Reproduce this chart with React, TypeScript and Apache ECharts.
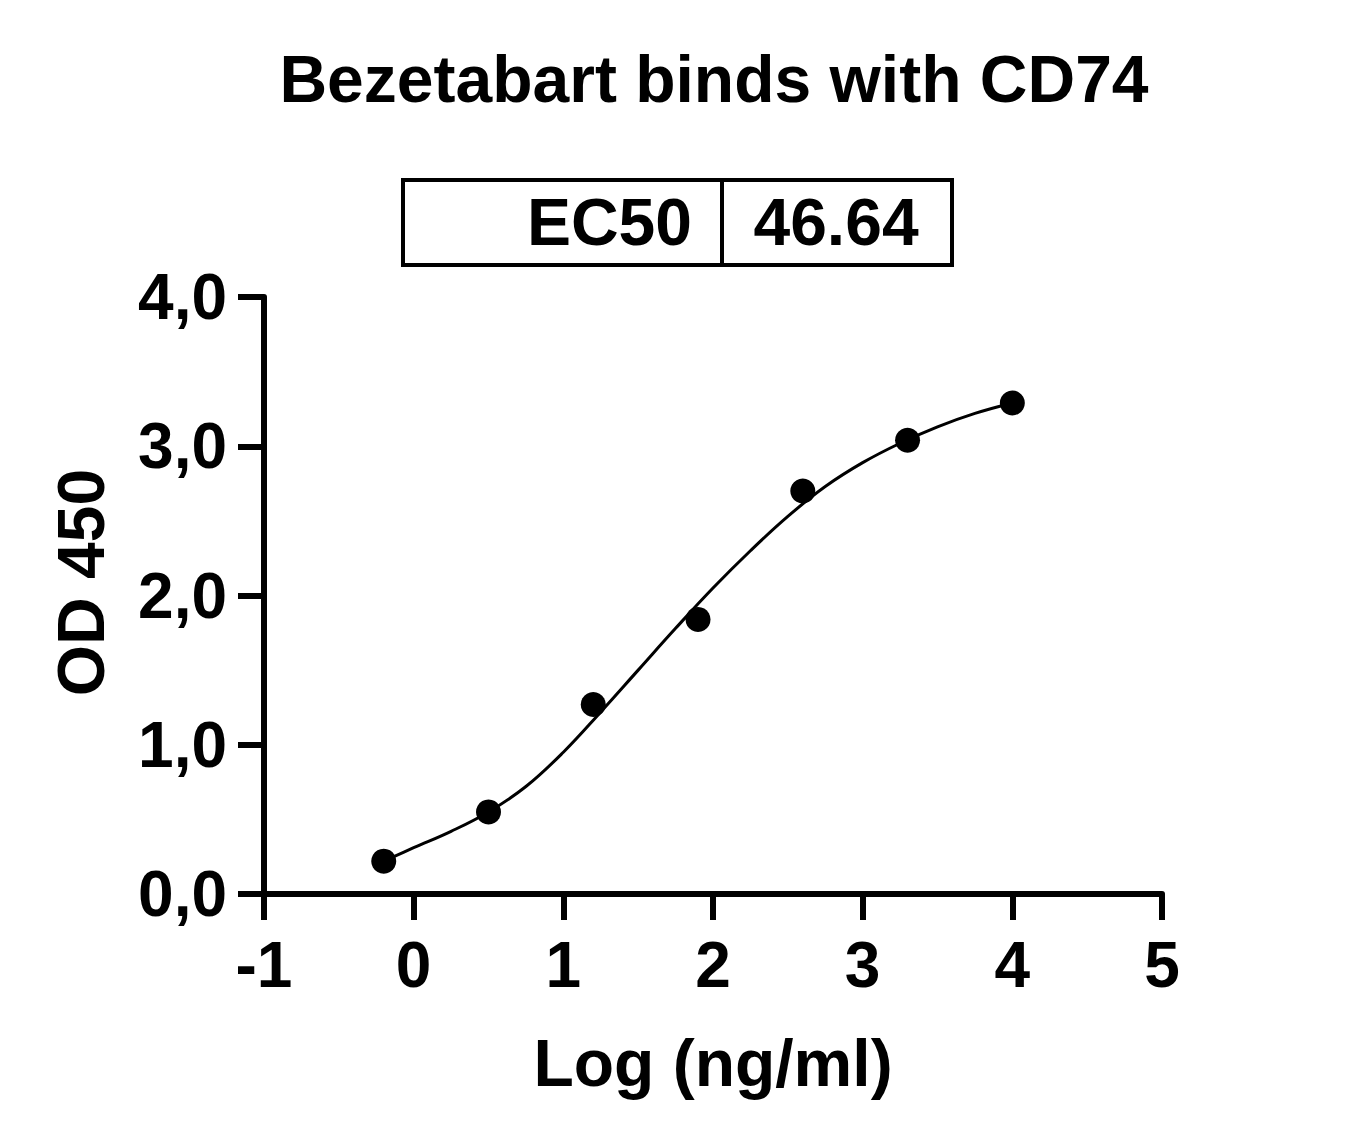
import React, { useRef, useEffect } from 'react';
import * as echarts from 'echarts';

// measured points: log concentration vs OD450
const logConc = [-0.2, 0.5, 1.2, 1.9, 2.6, 3.3, 4.0];
const odValues = [0.22, 0.55, 1.27, 1.84, 2.7, 3.04, 3.29];

// fitted curve
const fitX = [-0.2, 0.0, 0.25, 0.5, 0.75, 1.0, 1.25, 1.5, 1.75, 2.0, 2.25, 2.5, 2.75, 3.0, 3.25, 3.5, 3.75, 4.0];
const fitY = [0.22, 0.31, 0.42, 0.55, 0.72, 0.95, 1.22, 1.5, 1.78, 2.05, 2.3, 2.53, 2.73, 2.89, 3.02, 3.13, 3.22, 3.29];

const titleText = 'Bezetabart binds with CD74';
const ec50Label = 'EC50';
const ec50Value = '46.64';

const FONT = "'Liberation Sans', Arial, sans-serif";

const App: React.FC = () => {
  const chartRef = useRef<HTMLDivElement>(null);

  useEffect(() => {
    if (!chartRef.current) return;
    const chart = echarts.init(chartRef.current, null, { renderer: 'svg' });

    const bold = { fontFamily: FONT, fontWeight: 'bold' as const, color: '#000' };

    chart.setOption({
      animation: false,
      backgroundColor: '#fff',
      title: {
        text: titleText,
        left: 709,
        top: 41,
        textAlign: 'center',
        textStyle: { ...bold, fontSize: 66 },
      },
      grid: { left: 264, right: 200, top: 297, bottom: 248 },
      xAxis: {
        type: 'value',
        min: -1,
        max: 5,
        interval: 1,
        name: 'Log (ng/ml)',
        nameLocation: 'middle',
        nameGap: 136,
        nameTextStyle: { ...bold, fontSize: 66 },
        splitLine: { show: false },
        axisLine: { onZero: false, lineStyle: { color: '#000', width: 6 } },
        axisTick: { length: 26, lineStyle: { color: '#000', width: 6 } },
        axisLabel: { ...bold, fontSize: 64, margin: 39 },
      },
      yAxis: {
        type: 'value',
        min: 0,
        max: 4,
        interval: 1,
        name: 'OD 450',
        nameLocation: 'middle',
        nameGap: 150,
        nameTextStyle: { ...bold, fontSize: 66, padding: [0, 0, 0, 26] },
        splitLine: { show: false },
        axisLine: { show: true, onZero: false, lineStyle: { color: '#000', width: 6 } },
        axisTick: { show: true, length: 26, lineStyle: { color: '#000', width: 6 } },
        axisLabel: {
          ...bold,
          fontSize: 64,
          margin: 37,
          formatter: (v: number) => v.toFixed(1).replace('.', ','),
        },
      },
      graphic: [
        {
          type: 'rect',
          shape: { x: 403, y: 180, width: 549, height: 85 },
          style: { fill: 'none', stroke: '#000', lineWidth: 4 },
        },
        {
          type: 'line',
          shape: { x1: 722, y1: 180, x2: 722, y2: 265 },
          style: { stroke: '#000', lineWidth: 4 },
        },
        {
          type: 'text',
          x: 692,
          y: 222,
          style: {
            text: ec50Label,
            font: `bold 66px ${FONT}`,
            fill: '#000',
            textAlign: 'right',
            textVerticalAlign: 'middle',
          },
        },
        {
          type: 'text',
          x: 836,
          y: 222,
          style: {
            text: ec50Value,
            font: `bold 66px ${FONT}`,
            fill: '#000',
            textAlign: 'center',
            textVerticalAlign: 'middle',
          },
        },
      ],
      series: [
        {
          type: 'line',
          data: fitX.map((x, i) => [x, fitY[i]]),
          smooth: 0.4,
          showSymbol: false,
          lineStyle: { color: '#000', width: 3 },
          z: 2,
        },
        {
          type: 'scatter',
          data: logConc.map((x, i) => [x, odValues[i]]),
          symbolSize: 25,
          itemStyle: { color: '#000', opacity: 1 },
          z: 3,
        },
      ],
    });

    return () => {
      chart.dispose();
    };
  }, []);

  return (
    <div
      ref={chartRef}
      style={{ position: 'fixed', left: 0, top: 0, width: 1362, height: 1142 }}
    />
  );
};

export default App;
